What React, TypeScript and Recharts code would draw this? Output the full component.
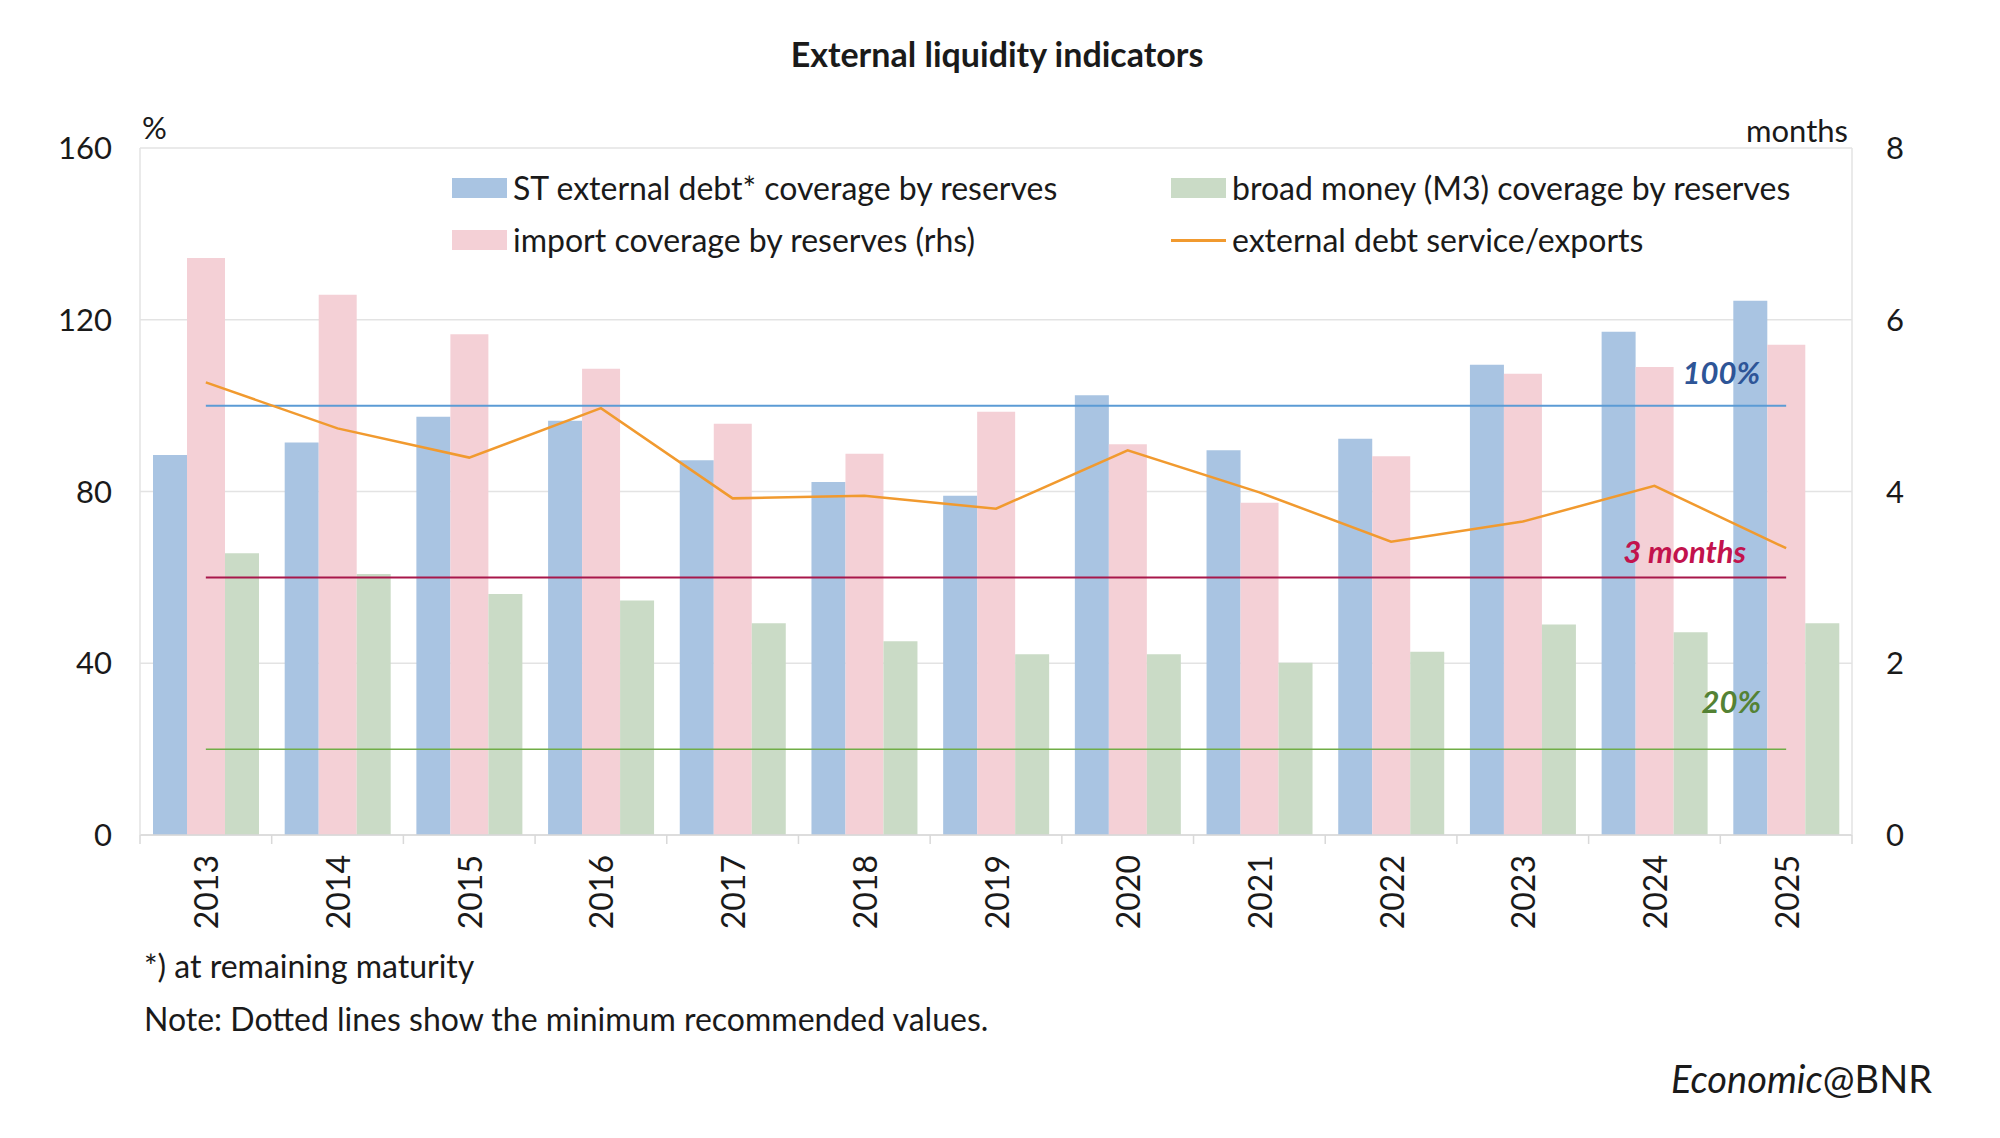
import React from 'react';
import { ComposedChart, Bar, Line, XAxis, YAxis, CartesianGrid, ReferenceLine } from 'recharts';

const years = ['2013', '2014', '2015', '2016', '2017', '2018', '2019', '2020', '2021', '2022', '2023', '2024', '2025'];
const stDebtCoverage = [88.5, 91.4, 97.4, 96.5, 87.3, 82.2, 79.0, 102.4, 89.6, 92.3, 109.5, 117.2, 124.4];
const importCoverage = [6.72, 6.29, 5.83, 5.43, 4.79, 4.44, 4.93, 4.55, 3.87, 4.41, 5.37, 5.45, 5.71];
const m3Coverage = [65.6, 60.8, 56.1, 54.6, 49.3, 45.1, 42.1, 42.1, 40.1, 42.7, 49.0, 47.2, 49.3];
const debtServiceExports = [105.4, 94.7, 87.9, 99.4, 78.4, 79.0, 76.0, 89.6, 79.8, 68.3, 73.0, 81.3, 66.8];
const leftTicks = [0, 40, 80, 120, 160];
const rightTicks = [0, 2, 4, 6, 8];
const thresholdST = 100;
const thresholdM3 = 20;
const thresholdImport = 3;

const legendItems = [
  { label: 'ST external debt* coverage by reserves', color: '#a9c4e2', kind: 'bar' },
  { label: 'broad money (M3) coverage by reserves', color: '#cadbc6', kind: 'bar' },
  { label: 'import coverage by reserves (rhs)', color: '#f4d0d6', kind: 'bar' },
  { label: 'external debt service/exports', color: '#f19a2f', kind: 'line' },
];

const W = 2000;
const H = 1138;
const PLOT_L = 140;
const PLOT_R = 1852;
const PLOT_T = 148;
const PLOT_B = 835;
const X_AXIS_H = 100;
const BAND = (PLOT_R - PLOT_L) / years.length;
const FONT = 'Lato, "Open Sans", sans-serif';
const TXT = '#1a1a1a';

const data = years.map((y, i) => ({
  year: y,
  st: stDebtCoverage[i],
  imp: importCoverage[i],
  m3: m3Coverage[i],
  svc: debtServiceExports[i],
}));

function YearTick(props: any) {
  const { x, y, payload, index } = props;
  const half = BAND / 2;
  const ty = y + 20;
  return (
    <g>
      <line x1={x - half} y1={y} x2={x - half} y2={y + 9} stroke="#d9d9d9" strokeWidth={1.5} />
      {index === years.length - 1 && (
        <line x1={x + half} y1={y} x2={x + half} y2={y + 9} stroke="#d9d9d9" strokeWidth={1.5} />
      )}
      <text
        x={x}
        y={ty}
        transform={`rotate(-90 ${x} ${ty})`}
        textAnchor="end"
        dominantBaseline="central"
        fontSize={32}
        fill={TXT}
        fontFamily={FONT}
      >
        {payload.value}
      </text>
    </g>
  );
}

const refLabel = (text: string, color: string, dx: number, dy: number) => (props: any) => {
  const vb = props.viewBox || {};
  return (
    <text
      x={vb.x + vb.width - dx}
      y={vb.y - dy}
      textAnchor="end"
      fill={color}
      fontSize={31}
      fontWeight={700}
      fontStyle="italic"
      fontFamily={FONT}
    >
      {text}
    </text>
  );
};

const abs = (style: React.CSSProperties): React.CSSProperties => ({
  position: 'absolute',
  whiteSpace: 'nowrap',
  lineHeight: 1,
  fontFamily: FONT,
  color: TXT,
  ...style,
});

export default function App() {
  const first = years[0];
  const last = years[years.length - 1];
  return (
    <div style={{ position: 'absolute', left: 0, top: 0, width: W, height: H, background: '#fff', overflow: 'hidden' }}>
      <ComposedChart
        width={W}
        height={H}
        data={data}
        margin={{ top: PLOT_T, bottom: H - PLOT_B - X_AXIS_H, left: 0, right: 0 }}
        barGap={0}
        barCategoryGap={0}
      >
        <CartesianGrid yAxisId="left" vertical={false} stroke="#e3e3e3" strokeWidth={1.5} />
        <XAxis
          dataKey="year"
          height={X_AXIS_H}
          interval={0}
          tickLine={false}
          tickSize={0}
          tickMargin={0}
          axisLine={{ stroke: '#d9d9d9', strokeWidth: 1.5 }}
          tick={<YearTick />}
        />
        <YAxis
          yAxisId="left"
          width={PLOT_L}
          domain={[0, 160]}
          ticks={leftTicks}
          interval={0}
          tickLine={false}
          tickSize={0}
          tickMargin={28}
          axisLine={{ stroke: '#e3e3e3', strokeWidth: 1.5 }}
          tick={{ fontSize: 31, fill: TXT, fontFamily: FONT }}
        />
        <YAxis
          yAxisId="right"
          orientation="right"
          width={W - PLOT_R}
          domain={[0, 8]}
          ticks={rightTicks}
          interval={0}
          tickLine={false}
          tickSize={0}
          tickMargin={34}
          axisLine={{ stroke: '#e3e3e3', strokeWidth: 1.5 }}
          tick={{ fontSize: 31, fill: TXT, fontFamily: FONT, textAnchor: 'start' }}
        />
        <Bar yAxisId="left" dataKey="st" fill="#a9c4e2" barSize={34} isAnimationActive={false} />
        <Bar yAxisId="right" dataKey="imp" fill="#f4d0d6" barSize={38} isAnimationActive={false} />
        <Bar yAxisId="left" dataKey="m3" fill="#cadbc6" barSize={34} isAnimationActive={false} />
        <ReferenceLine
          yAxisId="left"
          segment={[{ x: first, y: thresholdST }, { x: last, y: thresholdST }]}
          stroke="#5b9bd5"
          strokeWidth={2}
          label={refLabel('100%', '#2e5597', 26, 22)}
        />
        <ReferenceLine
          yAxisId="right"
          segment={[{ x: first, y: thresholdImport }, { x: last, y: thresholdImport }]}
          stroke="#a8174b"
          strokeWidth={2}
          label={refLabel('3 months', '#c2134d', 40, 14)}
        />
        <ReferenceLine
          yAxisId="left"
          segment={[{ x: first, y: thresholdM3 }, { x: last, y: thresholdM3 }]}
          stroke="#70ad47"
          strokeWidth={1.5}
          label={refLabel('20%', '#548235', 25, 36)}
        />
        <Line
          yAxisId="left"
          type="linear"
          dataKey="svc"
          stroke="#f19a2f"
          strokeWidth={2.5}
          dot={false}
          activeDot={false}
          isAnimationActive={false}
        />
      </ComposedChart>

      <div style={abs({ left: 997, top: 54, transform: 'translate(-50%, -50%)', fontSize: 34, fontWeight: 700 })}>
        External liquidity indicators
      </div>
      <div style={abs({ left: 142, top: 127, transform: 'translateY(-50%)', fontSize: 31 })}>%</div>
      <div style={abs({ right: W - 1848, top: 130, transform: 'translateY(-50%)', fontSize: 31 })}>months</div>

      {legendItems.map((it, i) => {
        const col = i % 2;
        const row = Math.floor(i / 2);
        const sx = col === 0 ? 452 : 1171;
        const cy = row === 0 ? 188 : 240;
        return (
          <div key={it.label}>
            {it.kind === 'bar' ? (
              <div style={{ position: 'absolute', left: sx, top: cy - 10, width: 55, height: 20, background: it.color }} />
            ) : (
              <div style={{ position: 'absolute', left: sx, top: cy - 1.5, width: 55, height: 3, background: it.color }} />
            )}
            <div style={abs({ left: sx + 61, top: cy, transform: 'translateY(-50%)', fontSize: 32 })}>{it.label}</div>
          </div>
        );
      })}

      <div style={abs({ left: 144, top: 966, transform: 'translateY(-50%)', fontSize: 32 })}>*) at remaining maturity</div>
      <div style={abs({ left: 144, top: 1019, transform: 'translateY(-50%)', fontSize: 32 })}>
        Note: Dotted lines show the minimum recommended values.
      </div>
      <div style={abs({ right: W - 1932, top: 1078, transform: 'translateY(-50%)', fontSize: 38 })}>
        <span style={{ fontStyle: 'italic' }}>Economic</span>@BNR
      </div>
    </div>
  );
}
